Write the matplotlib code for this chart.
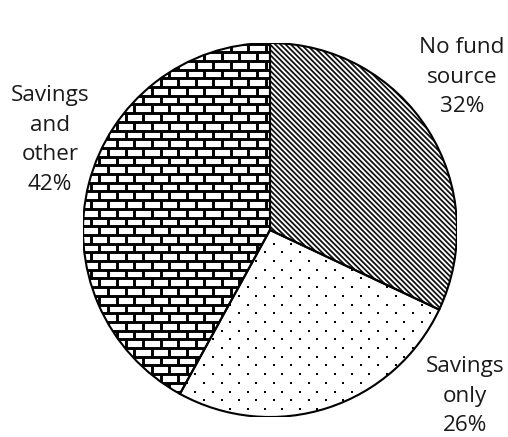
import numpy as np
import matplotlib.pyplot as plt
from matplotlib.collections import LineCollection
from matplotlib.patches import Wedge

labels = ["No fund\nsource", "Savings\nonly", "Savings\nand\nother"]
values = [32, 26, 42]

plt.rcParams["font.family"] = ["Open Sans", "DejaVu Sans"]

fig = plt.figure(figsize=(5.08, 4.37), dpi=100)
ax = fig.add_axes([83 / 508, 20 / 437, 374 / 508, 374 / 437])

wedges, _ = ax.pie(values, startangle=90, counterclock=False, radius=1,
                   wedgeprops=dict(facecolor="white", edgecolor="none"))

px = 1 / 187  # one pixel in data units

# diagonal lines for "No fund source"
step = 5.2 * px
segs = [[(c - 1.2, 1.2), (c + 1.2, -1.2)] for c in np.arange(-2.4, 2.4, step)]
diag = LineCollection(segs, colors="#111111", linewidths=1.3, zorder=1.5)
ax.add_collection(diag)
diag.set_clip_path(wedges[0])

# dots for "Savings only"
dx, dy = 17.4 * px, 8.7 * px
pts = []
for i, y in enumerate(np.arange(-1.05, 1.05, dy)):
    off = 0 if i % 2 == 0 else dx / 2
    for x in np.arange(-1.05 + off, 1.05, dx):
        pts.append((x, y))
pts = np.array(pts)
dots = ax.scatter(pts[:, 0], pts[:, 1], s=3.0, marker="s", color="black",
                  linewidths=0, zorder=1.5)
dots.set_clip_path(wedges[1])

# brick pattern for "Savings and other"
bh, bw = 8.7 * px, 17.5 * px
segs = []
for i, y in enumerate(np.arange(-1.05, 1.05, bh)):
    segs.append([(-1.1, y), (1.1, y)])
    off = 0 if i % 2 == 0 else bw / 2
    for x in np.arange(-1.1 + off, 1.1, bw):
        segs.append([(x, y), (x, y + bh)])
bricks = LineCollection(segs, colors="black", linewidths=2.1, zorder=1.5)
ax.add_collection(bricks)
bricks.set_clip_path(wedges[2])

for w in wedges:
    ax.add_patch(Wedge((0, 0), 1, w.theta1, w.theta2, facecolor="none",
                       edgecolor="black", linewidth=1.5, zorder=2))

label_pos = [(1.027, 0.818), (1.043, -0.888), (-1.176, 0.481)]
for lab, v, (x, y) in zip(labels, values, label_pos):
    ax.text(x, y, f"{lab}\n{v}%", ha="center", va="center", fontsize=16.2,
            linespacing=1.55, color="#1a1a1a", clip_on=False)

ax.set_xlim(-1, 1)
ax.set_ylim(-1, 1)
ax.set_aspect("equal")
ax.axis("off")
fig.savefig("out.png", dpi=100)
